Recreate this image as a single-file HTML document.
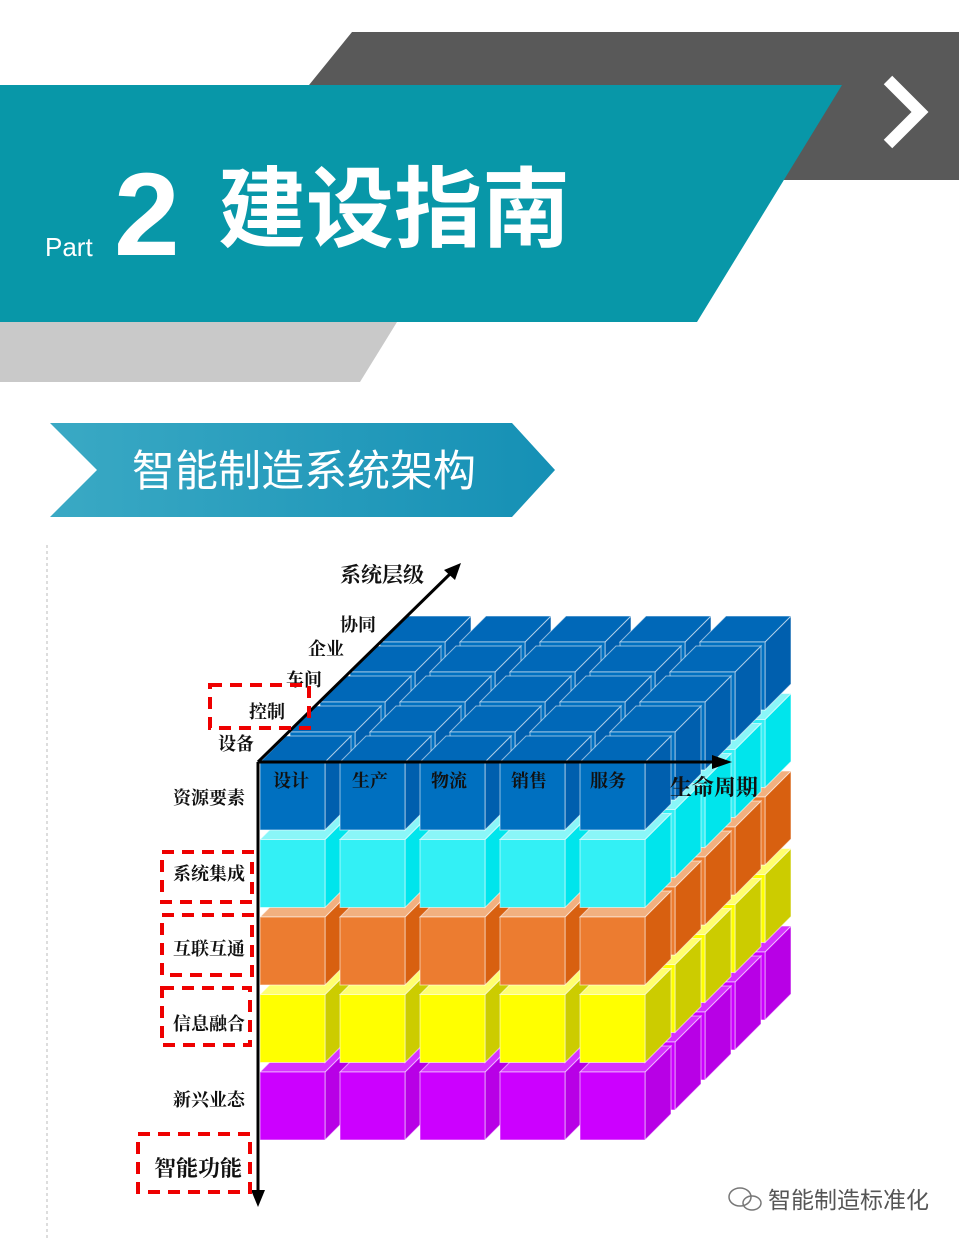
<!DOCTYPE html>
<html><head><meta charset="utf-8">
<style>
html,body{margin:0;padding:0;background:#fff;}
body{width:959px;height:1241px;overflow:hidden;position:relative;font-family:"Liberation Sans","Noto Sans CJK SC",sans-serif;}
svg{position:absolute;left:0;top:0;}
.l{font-family:"Liberation Serif","Noto Serif CJK SC",serif;font-size:18px;fill:#111;font-weight:bold;}
</style></head><body>
<svg id="s" width="959" height="1241" viewBox="0 0 959 1241" xmlns="http://www.w3.org/2000/svg">
<defs>
<linearGradient id="bg" x1="0" y1="0" x2="1" y2="0">
<stop offset="0" stop-color="#3aa9c4"/><stop offset="1" stop-color="#1590b5"/></linearGradient>
</defs>
<polygon points="352,32 959,32 959,180 232,180" fill="#595959"/>
<polygon points="0,85 842,85 697,322 0,322" fill="#0897a8"/>
<polygon points="0,322 397,322 360,382 0,382" fill="#c9c9c9"/>
<polyline points="888,80 920,112 888,144" fill="none" stroke="#fff" stroke-width="12"/>
<text x="45" y="256" font-size="26" fill="#fff" font-family="Liberation Sans, sans-serif">Part</text>
<text x="114" y="255" font-size="118" font-weight="bold" fill="#fff" font-family="Liberation Sans, sans-serif">2</text>
<text x="218" y="240" font-size="88" font-weight="bold" fill="#fff" font-family="Noto Sans CJK SC, sans-serif">建设指南</text>
<polygon points="50,423 512,423 555,470 512,517 50,517 97,470" fill="url(#bg)"/>
<text x="132" y="486" font-size="43" fill="#fff" font-family="Noto Sans CJK SC, sans-serif">智能制造系统架构</text>
<line x1="47" y1="545" x2="47" y2="1241" stroke="#bbb" stroke-dasharray="3,3"/>
<g id="cubes"></g>
<line x1="258" y1="762" x2="258" y2="1195" stroke="#000" stroke-width="3"/>
<polygon points="251,1190 265,1190 258,1207" fill="#000"/>
<line x1="258" y1="762" x2="715" y2="762" stroke="#000" stroke-width="3"/>
<polygon points="712,755 712,769 732,762" fill="#000"/>
<line x1="258" y1="762" x2="452" y2="572" stroke="#000" stroke-width="3"/>
<polygon points="444,570 455,580 461,563" fill="#000"/>
<text class="l" x="340" y="582" style="font-size:21px">系统层级</text>
<text class="l" x="340" y="631">协同</text>
<text class="l" x="308" y="655">企业</text>
<text class="l" x="286" y="686">车间</text>
<text class="l" x="249" y="718">控制</text>
<text class="l" x="218" y="750">设备</text>
<text class="l" x="273" y="787">设计</text>
<text class="l" x="352" y="787">生产</text>
<text class="l" x="431" y="787">物流</text>
<text class="l" x="511" y="787">销售</text>
<text class="l" x="590" y="787">服务</text>
<text class="l" x="670" y="795" style="font-size:22px">生命周期</text>
<text class="l" x="173" y="804">资源要素</text>
<text class="l" x="173" y="880">系统集成</text>
<text class="l" x="173" y="955">互联互通</text>
<text class="l" x="173" y="1030">信息融合</text>
<text class="l" x="173" y="1106">新兴业态</text>
<text class="l" x="154" y="1176" style="font-size:22px">智能功能</text>
<g fill="none" stroke="#e00" stroke-width="4" stroke-dasharray="12,8">
<rect x="210" y="685" width="99" height="43"/>
<rect x="162" y="852" width="90" height="50"/>
<rect x="162" y="915" width="90" height="60"/>
<rect x="162" y="988" width="88" height="57"/>
<rect x="138" y="1134" width="112" height="58"/>
</g>
<text x="768" y="1208" font-size="23" fill="#555" font-family="Noto Sans CJK SC, sans-serif">智能制造标准化</text>
<g fill="none" stroke="#777" stroke-width="1.5"><ellipse cx="740" cy="1197" rx="11" ry="9"/><ellipse cx="752" cy="1203" rx="9" ry="7"/></g>
</svg>
<script>
var cols=[["#0070c0","#0068b8","#005fae"],["#33f0f5","#8af6f8","#00e5ec"],["#ec7c30","#f2b07f","#d86010"],["#ffff00","#ffff70","#cccc00"],["#cc00ff","#d633ff","#b800e6"]];
var g=document.getElementById("cubes"),h="";
var w=65,H=68,d=26;
for(var L=4;L>=0;L--)for(var r=4;r>=0;r--)for(var c=0;c<5;c++){
var x=260+80*c+30*r,y=762+77.5*L-30*r,C=cols[L];
var st=' stroke="rgba(255,255,255,0.55)" stroke-width="1"';
h+='<polygon points="'+(x+w)+','+y+' '+(x+w+d)+','+(y-d)+' '+(x+w+d)+','+(y+H-d)+' '+(x+w)+','+(y+H)+'" fill="'+C[2]+'"'+st+'/>';
h+='<polygon points="'+x+','+y+' '+(x+d)+','+(y-d)+' '+(x+w+d)+','+(y-d)+' '+(x+w)+','+y+'" fill="'+C[1]+'"'+st+'/>';
h+='<rect x="'+x+'" y="'+y+'" width="'+w+'" height="'+H+'" fill="'+C[0]+'"'+st+'/>';
}
g.innerHTML=h;
</script>
</body></html>
